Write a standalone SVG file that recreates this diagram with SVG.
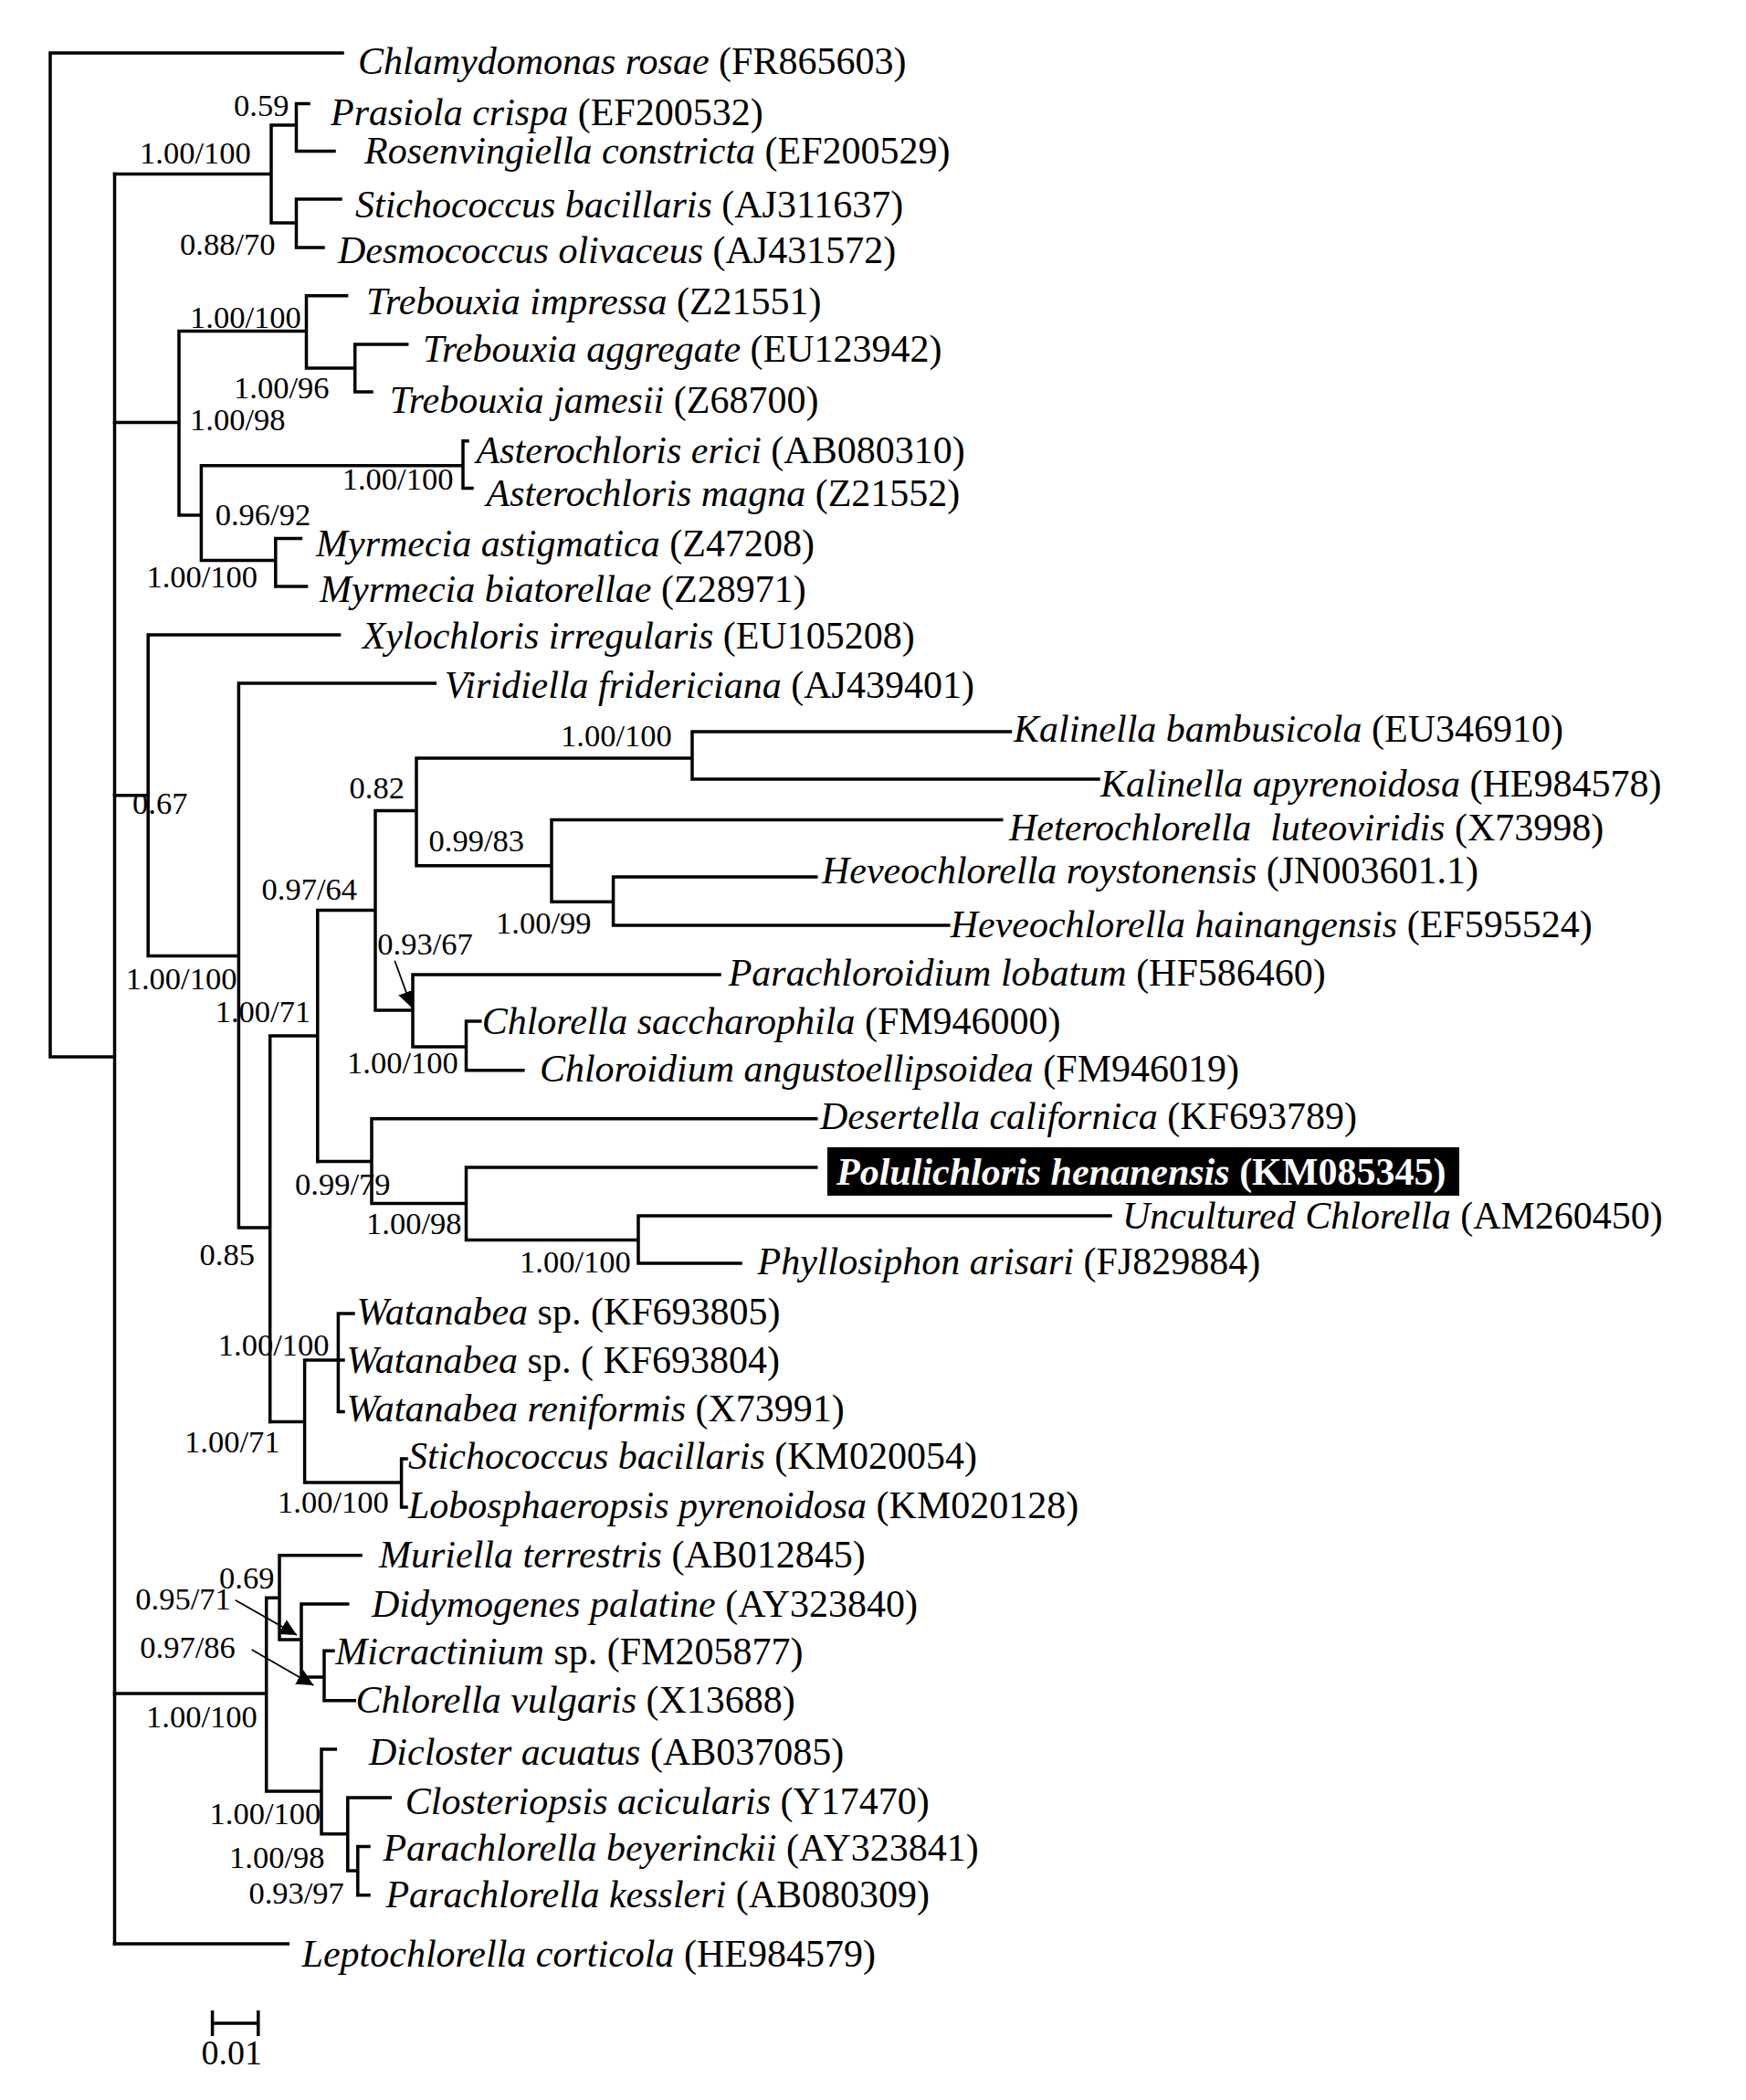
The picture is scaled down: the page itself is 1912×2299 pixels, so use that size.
<svg xmlns="http://www.w3.org/2000/svg" width="1912" height="2299" viewBox="0 0 1912 2299">
<style>
.br{fill:none;stroke:#000;stroke-width:3.5;stroke-linecap:square}
.ar{fill:none;stroke:#000;stroke-width:1.8}
.t{font-family:"Liberation Serif","Times New Roman",serif;font-size:42px;fill:#000}
.s{font-family:"Liberation Serif","Times New Roman",serif;font-size:34.5px;fill:#000}
.i{font-style:italic}
.hl{font-family:"Liberation Serif","Times New Roman",serif;font-size:42px;fill:#fff;font-weight:bold}
</style>
<defs>
<marker id="ah" markerUnits="userSpaceOnUse" markerWidth="20" markerHeight="20" refX="18" refY="9" orient="auto"><path d="M0,0 L18,9 L0,18 z" fill="#000"/></marker>
</defs>
<rect width="1912" height="2299" fill="#fff"/>
<g id="connectors">
<path class="br" d="M55 58V1157M55 58H375M55 1157H125.5M125.5 190.5V2128"/>
<path class="br" d="M125.5 190.5H297M297 137V244M297 137H324.5M297 244H324.5M324.5 113.6V165.4M324.5 218V271M324.5 113.6H338M324.5 165.4H366M324.5 218H373M324.5 271H354"/>
<path class="br" d="M125.5 462.4H196M196 362.5V564M196 362.5H335.5M335.5 323.7V403M335.5 323.7H379.6M335.5 403H388.7M388.7 377V429M388.7 377H445.7M388.7 429H407M196 564H220.4M220.4 509.7V613.6M220.4 509.7H507M507 482.7V534.5M507 482.7H512M507 534.5H517M220.4 613.6H301.8M301.8 589.6V642M301.8 589.6H329.4M301.8 642H335.5"/>
<path class="br" d="M125.5 870.7H162.2M162.2 695V1046.4M162.2 695H371.6M162.2 1046.4H261.4M261.4 748V1343.9M261.4 748H476.3M261.4 1343.9H295.7M295.7 1134V1556.6M295.7 1134H347.8M347.8 996.6V1271.6M347.8 996.6H411M411 887.4V1106M411 887.4H456M456 830V947.7M456 830H758M758 801V853M758 801H1106.5M758 853H1203M456 947.7H604M604 897.5V987.2M604 897.5H1096.8M604 987.2H671.6M671.6 960V1013M671.6 960H893.8M671.6 1013H1038.8M411 1106H452M452 1067V1146M452 1067H788M452 1146H510.5M510.5 1118V1171.7M510.5 1118H525.8M510.5 1171.7H572.9"/>
<path class="br" d="M347.8 1271.6H407M407 1224.8V1317.4M407 1224.8H893.8M407 1317.4H510.5M510.5 1278V1357.6M510.5 1278H893.8M510.5 1357.6H699M699 1331V1383M699 1331H1216M699 1383H811"/>
<path class="br" d="M295.7 1556.6H333.6M333.6 1489V1623M333.6 1489H370.4M370.4 1438V1545.5M370.4 1438H387M370.4 1489H376M370.4 1545.5H376M333.6 1623H439.6M439.6 1597V1650M439.6 1597H445M439.6 1650H445"/>
<path class="br" d="M125.5 1854H291.7M291.7 1749.3V1961M291.7 1749.3H306M306 1702.7V1795M306 1702.7H395M306 1795H330M330 1756V1836M330 1756H380.7M330 1836H355M355 1807.3V1861.7M355 1807.3H365M355 1861.7H388.3M291.7 1961H352M352 1915V2007.7M352 1915H367.3M352 2007.7H380.8M380.8 1968V2048M380.8 1968H427.3M380.8 2048H391.8M391.8 2021.5V2074.8M391.8 2021.5H404M391.8 2074.8H404M125.5 2128H315.3"/>
<path class="ar" d="M432.3 1051.7L451 1103.3" marker-end="url(#ah)"/>
<path class="ar" d="M257.7 1751.7L325 1790" marker-end="url(#ah)"/>
<path class="ar" d="M275.7 1806L343.3 1845" marker-end="url(#ah)"/>
</g>
<g id="scale-bar">
<path class="br" d="M232.6 2201V2229M282.8 2201V2229M232.6 2215H282.8" style="stroke-linecap:butt"/>
<text x="220.4" y="2260" class="s" style="font-size:38px">0.01</text>
</g>
<g id="support-labels">
<text class="s" x="256" y="127">0.59</text>
<text class="s" x="153" y="179">1.00/100</text>
<text class="s" x="197" y="279">0.88/70</text>
<text class="s" x="208" y="359">1.00/100</text>
<text class="s" x="256" y="436">1.00/96</text>
<text class="s" x="208" y="471">1.00/98</text>
<text class="s" x="374.7" y="536">1.00/100</text>
<text class="s" x="235.7" y="575">0.96/92</text>
<text class="s" x="160.4" y="643">1.00/100</text>
<text class="s" x="145" y="891">0.67</text>
<text class="s" x="137.7" y="1083">1.00/100</text>
<text class="s" x="235.7" y="1119">1.00/71</text>
<text class="s" x="286.5" y="985">0.97/64</text>
<text class="s" x="382.6" y="874">0.82</text>
<text class="s" x="614" y="817">1.00/100</text>
<text class="s" x="469.6" y="932">0.99/83</text>
<text class="s" x="543" y="1022">1.00/99</text>
<text class="s" x="413.3" y="1045">0.93/67</text>
<text class="s" x="380" y="1175">1.00/100</text>
<text class="s" x="323" y="1308">0.99/79</text>
<text class="s" x="401" y="1351">1.00/98</text>
<text class="s" x="569" y="1393">1.00/100</text>
<text class="s" x="218.6" y="1385">0.85</text>
<text class="s" x="238.8" y="1484">1.00/100</text>
<text class="s" x="202" y="1590">1.00/71</text>
<text class="s" x="304" y="1656">1.00/100</text>
<text class="s" x="240" y="1739">0.69</text>
<text class="s" x="148.3" y="1762">0.95/71</text>
<text class="s" x="153.3" y="1815">0.97/86</text>
<text class="s" x="160" y="1891">1.00/100</text>
<text class="s" x="229.6" y="1997">1.00/100</text>
<text class="s" x="251" y="2045">1.00/98</text>
<text class="s" x="272.4" y="2084">0.93/97</text>
</g>
<g id="taxon-chlamydomonas-rosae"><text class="t" x="392" y="81"><tspan class="i">Chlamydomonas rosae</tspan> (FR865603)</text></g>
<g id="taxon-prasiola-crispa"><text class="t" x="362" y="137"><tspan class="i">Prasiola crispa</tspan> (EF200532)</text></g>
<g id="taxon-rosenvingiella-constricta"><text class="t" x="399" y="179.4"><tspan class="i">Rosenvingiella constricta</tspan> (EF200529)</text></g>
<g id="taxon-stichococcus-bacillaris-1"><text class="t" x="389" y="238"><tspan class="i">Stichococcus bacillaris</tspan> (AJ311637)</text></g>
<g id="taxon-desmococcus-olivaceus"><text class="t" x="370" y="287.5"><tspan class="i">Desmococcus olivaceus</tspan> (AJ431572)</text></g>
<g id="taxon-trebouxia-impressa"><text class="t" x="401" y="344"><tspan class="i">Trebouxia impressa</tspan> (Z21551)</text></g>
<g id="taxon-trebouxia-aggregate"><text class="t" x="463" y="395.5"><tspan class="i">Trebouxia aggregate</tspan> (EU123942)</text></g>
<g id="taxon-trebouxia-jamesii"><text class="t" x="426.7" y="452"><tspan class="i">Trebouxia jamesii</tspan> (Z68700)</text></g>
<g id="taxon-asterochloris-erici"><text class="t" x="521.6" y="506.5"><tspan class="i">Asterochloris erici</tspan> (AB080310)</text></g>
<g id="taxon-asterochloris-magna"><text class="t" x="532.6" y="553.5"><tspan class="i">Asterochloris magna</tspan> (Z21552)</text></g>
<g id="taxon-myrmecia-astigmatica"><text class="t" x="346" y="608.8"><tspan class="i">Myrmecia astigmatica</tspan> (Z47208)</text></g>
<g id="taxon-myrmecia-biatorellae"><text class="t" x="350" y="659"><tspan class="i">Myrmecia biatorellae</tspan> (Z28971)</text></g>
<g id="taxon-xylochloris-irregularis"><text class="t" x="396.7" y="709.8"><tspan class="i">Xylochloris irregularis</tspan> (EU105208)</text></g>
<g id="taxon-viridiella-fridericiana"><text class="t" x="486.7" y="764"><tspan class="i">Viridiella fridericiana</tspan> (AJ439401)</text></g>
<g id="taxon-kalinella-bambusicola"><text class="t" x="1110" y="811.6"><tspan class="i">Kalinella bambusicola</tspan> (EU346910)</text></g>
<g id="taxon-kalinella-apyrenoidosa"><text class="t" x="1205" y="871.5"><tspan class="i">Kalinella apyrenoidosa</tspan> (HE984578)</text></g>
<g id="taxon-heterochlorella-luteoviridis"><text class="t" x="1105" y="919.5" xml:space="preserve"><tspan class="i">Heterochlorella  luteoviridis</tspan> (X73998)</text></g>
<g id="taxon-heveochlorella-roystonensis"><text class="t" x="900" y="967"><tspan class="i">Heveochlorella roystonensis</tspan> (JN003601.1)</text></g>
<g id="taxon-heveochlorella-hainangensis"><text class="t" x="1040.7" y="1026"><tspan class="i">Heveochlorella hainangensis</tspan> (EF595524)</text></g>
<g id="taxon-parachloroidium-lobatum"><text class="t" x="797.7" y="1078.5"><tspan class="i">Parachloroidium lobatum</tspan> (HF586460)</text></g>
<g id="taxon-chlorella-saccharophila"><text class="t" x="527.7" y="1132"><tspan class="i">Chlorella saccharophila</tspan> (FM946000)</text></g>
<g id="taxon-chloroidium-angustoellipsoidea"><text class="t" x="590.9" y="1184"><tspan class="i">Chloroidium angustoellipsoidea</tspan> (FM946019)</text></g>
<g id="taxon-desertella-californica"><text class="t" x="898" y="1235.7"><tspan class="i">Desertella californica</tspan> (KF693789)</text></g>
<g id="taxon-polulichloris-henanensis"><rect x="906" y="1256" width="692" height="53" fill="#000"/><text class="hl" x="916" y="1297"><tspan class="i">Polulichloris henanensis</tspan> (KM085345)</text></g>
<g id="taxon-uncultured-chlorella"><text class="t" x="1229" y="1345"><tspan class="i">Uncultured Chlorella</tspan> (AM260450)</text></g>
<g id="taxon-phyllosiphon-arisari"><text class="t" x="829.5" y="1395"><tspan class="i">Phyllosiphon arisari</tspan> (FJ829884)</text></g>
<g id="taxon-watanabea-sp-1"><text class="t" x="390.6" y="1450"><tspan class="i">Watanabea</tspan> sp. (KF693805)</text></g>
<g id="taxon-watanabea-sp-2"><text class="t" x="379.6" y="1503"><tspan class="i">Watanabea</tspan> sp. ( KF693804)</text></g>
<g id="taxon-watanabea-reniformis"><text class="t" x="379.6" y="1556"><tspan class="i">Watanabea reniformis</tspan> (X73991)</text></g>
<g id="taxon-stichococcus-bacillaris-2"><text class="t" x="447" y="1608"><tspan class="i">Stichococcus bacillaris</tspan> (KM020054)</text></g>
<g id="taxon-lobosphaeropsis-pyrenoidosa"><text class="t" x="447" y="1662"><tspan class="i">Lobosphaeropsis pyrenoidosa</tspan> (KM020128)</text></g>
<g id="taxon-muriella-terrestris"><text class="t" x="415" y="1716"><tspan class="i">Muriella terrestris</tspan> (AB012845)</text></g>
<g id="taxon-didymogenes-palatine"><text class="t" x="407" y="1769.6"><tspan class="i">Didymogenes palatine</tspan> (AY323840)</text></g>
<g id="taxon-micractinium-sp"><text class="t" x="367.3" y="1822"><tspan class="i">Micractinium</tspan> sp. (FM205877)</text></g>
<g id="taxon-chlorella-vulgaris"><text class="t" x="389.4" y="1875.4"><tspan class="i">Chlorella vulgaris</tspan> (X13688)</text></g>
<g id="taxon-dicloster-acuatus"><text class="t" x="404" y="1932"><tspan class="i">Dicloster acuatus</tspan> (AB037085)</text></g>
<g id="taxon-closteriopsis-acicularis"><text class="t" x="443.8" y="1986"><tspan class="i">Closteriopsis acicularis</tspan> (Y17470)</text></g>
<g id="taxon-parachlorella-beyerinckii"><text class="t" x="419.4" y="2037"><tspan class="i">Parachlorella beyerinckii</tspan> (AY323841)</text></g>
<g id="taxon-parachlorella-kessleri"><text class="t" x="422.4" y="2088"><tspan class="i">Parachlorella kessleri</tspan> (AB080309)</text></g>
<g id="taxon-leptochlorella-corticola"><text class="t" x="330.6" y="2152.6"><tspan class="i">Leptochlorella corticola</tspan> (HE984579)</text></g>
</svg>
